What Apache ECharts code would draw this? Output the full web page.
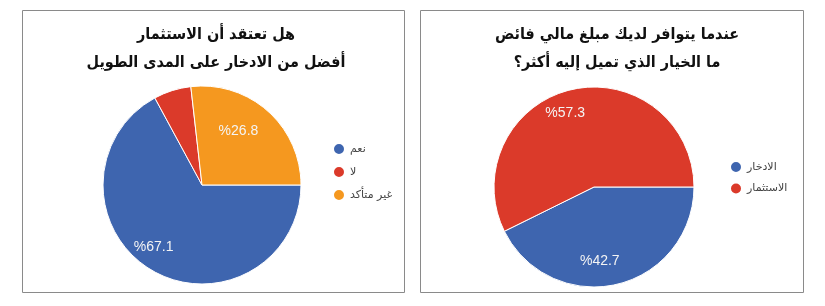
<!DOCTYPE html>
<html>
<head>
<meta charset="utf-8">
<script src="https://cdn.jsdelivr.net/npm/echarts@6/dist/echarts.min.js"></script>
<style>
html,body{margin:0;padding:0;background:#fff;}
#c{width:825px;height:306px;}
</style>
</head>
<body>
<div id="c"></div>
<script>
// Left chart data
const leftTitle = 'هل تعتقد أن الاستثمار\nأفضل من الادخار على المدى الطويل';
const leftCategories = ['نعم', 'لا', 'غير متأكد'];
const leftValues = [67.1, 6.1, 26.8];
const leftColors = ['#3e65af', '#db3a2a', '#f5981f'];

// Right chart data
const rightTitle = 'عندما يتوافر لديك مبلغ مالي فائض\nما الخيار الذي تميل إليه أكثر؟';
const rightCategories = ['الادخار', 'الاستثمار'];
const rightValues = [42.7, 57.3];
const rightColors = ['#3e65af', '#db3a2a'];

const AR_FONT = "'DejaVu Sans', sans-serif";
const AR_TITLE_FONT = "'DejaVu Sans Condensed', 'DejaVu Sans', sans-serif";

function items(cats, vals, cols) {
  return cats.map((n, i) => ({ name: n, value: vals[i], itemStyle: { color: cols[i] } }));
}
function labelItems(cats, vals, showMin) {
  return cats.map((n, i) => ({ name: n, value: vals[i], label: { show: vals[i] >= showMin } }));
}
const pctFmt = p => '%' + p.value.toFixed(1);

function mainPie(cats, vals, cols, center, r) {
  return {
    type: 'pie', center: center, radius: [0, r], startAngle: 0, clockwise: true,
    data: items(cats, vals, cols),
    label: { show: false }, labelLine: { show: false },
    itemStyle: { borderColor: '#ffffff', borderWidth: 1 },
    emphasis: { disabled: true }, silent: true, animation: false
  };
}
function labelPie(cats, vals, center, rr) {
  return {
    type: 'pie', center: center, radius: rr, startAngle: 0, clockwise: true,
    data: labelItems(cats, vals, 10),
    itemStyle: { color: 'rgba(0,0,0,0)' },
    label: { show: true, position: 'inside', formatter: pctFmt, color: '#f4f4f4',
             fontFamily: 'Arial, Liberation Sans, sans-serif', fontSize: 14,
             padding: [0, 23, 0, 0] },
    labelLine: { show: false }, legendHoverLink: false,
    emphasis: { disabled: true }, silent: true, animation: false
  };
}

const chart = echarts.init(document.getElementById('c'), null, { renderer: 'canvas' });
chart.setOption({
  backgroundColor: '#ffffff',
  animation: false,
  graphic: [
    { type: 'rect', shape: { x: 22.5, y: 10.5, width: 382, height: 282 },
      style: { fill: 'none', stroke: '#8a8a8a', lineWidth: 1 } },
    { type: 'rect', shape: { x: 420.5, y: 10.5, width: 383, height: 282 },
      style: { fill: 'none', stroke: '#8a8a8a', lineWidth: 1 } }
  ],
  title: [
    { text: leftTitle, left: 211, top: 16, textAlign: 'center',
      textStyle: { fontFamily: AR_TITLE_FONT, fontWeight: 'bold', fontSize: 16, lineHeight: 28, color: '#111', align: 'center' } },
    { text: rightTitle, left: 612, top: 16, textAlign: 'center',
      textStyle: { fontFamily: AR_TITLE_FONT, fontWeight: 'bold', fontSize: 16, lineHeight: 28, color: '#111', align: 'center' } }
  ],
  legend: [
    { data: leftCategories, orient: 'vertical', left: 327, top: 137, icon: 'circle',
      itemWidth: 12, itemHeight: 12, itemGap: 9, selectedMode: false,
      textStyle: { fontFamily: AR_FONT, fontSize: 11, color: '#444' } },
    { data: rightCategories, orient: 'vertical', left: 724, top: 155, icon: 'circle',
      itemWidth: 12, itemHeight: 12, itemGap: 7.5, selectedMode: false,
      textStyle: { fontFamily: AR_FONT, fontSize: 11, color: '#444' } }
  ],
  series: [
    mainPie(leftCategories, leftValues, leftColors, [202, 185], 99),
    mainPie(rightCategories, rightValues, rightColors, [594, 187], 100),
    labelPie(leftCategories, leftValues, [202, 185], [38, 100]),
    labelPie(rightCategories, rightValues, [594, 187], [46, 100])
  ]
});
</script>
</body>
</html>
